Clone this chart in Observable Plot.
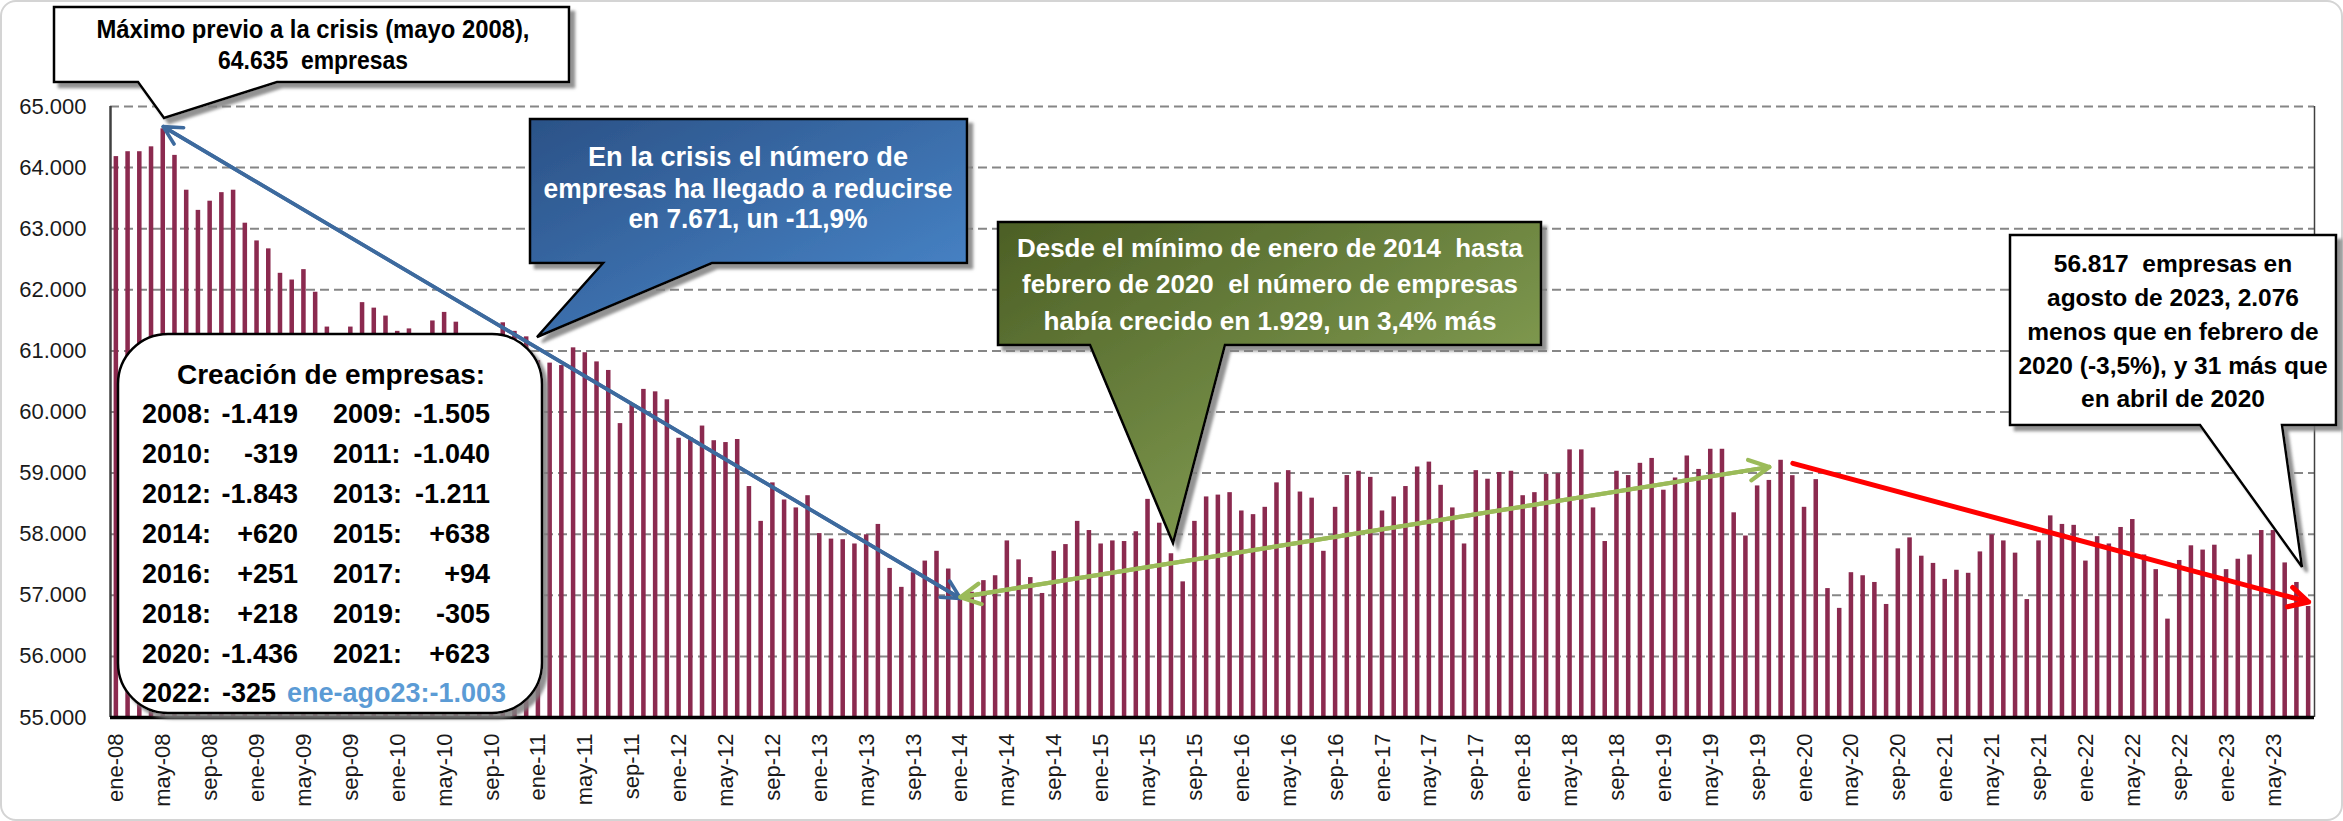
<!DOCTYPE html>
<html><head><meta charset="utf-8">
<script src="https://cdn.jsdelivr.net/npm/d3@7"></script>
<script src="https://cdn.jsdelivr.net/npm/@observablehq/plot@0.6"></script>
<style>
html,body{margin:0;padding:0;background:#fff;}
#wrap{position:relative;width:2343px;height:821px;overflow:hidden;font-family:Arial,"Liberation Sans",sans-serif;}
#wrap svg{position:absolute;left:0;top:0;}
#border{position:absolute;left:0;top:0;width:2339px;height:817px;border:2px solid #d4d4d4;border-radius:16px;pointer-events:none;}
</style></head><body><div id="wrap"><div id="border"></div></div>
<script>
// ---------- data ----------
const monthNames = ["ene","feb","mar","abr","may","jun","jul","ago","sep","oct","nov","dic"];
const years = [2008,2009,2010,2011,2012,2013,2014,2015,2016,2017,2018,2019,2020,2021,2022,2023];
const v2008 = [64180,64260,64260,64340,64635,64200,63630,63300,63450,63590,63630,63090];
const v2009 = [62800,62670,62270,62160,62330,61960,61390,61150,61390,61790,61700,61570];
const v2010 = [61320,61360,61200,61490,61630,61470,61100,60950,61150,61460,61320,61230];
const v2011 = [60840,60800,60760,61050,60970,60820,60680,59810,60130,60370,60330,60200];
const v2012 = [59570,59580,59770,59530,59500,59550,58780,58210,58840,58560,58430,58630];
const v2013 = [58010,57920,57910,57840,57990,58160,57440,57130,57370,57560,57720,57430];
const v2014 = [56964,57050,57240,57320,57890,57580,57290,57030,57720,57830,58210,58060];
const v2015 = [57840,57890,57880,58040,58570,58180,57680,57220,58210,58610,58640,58680];
const v2016 = [58380,58320,58440,58840,59040,58690,58590,57720,58440,58960,59030,58930];
const v2017 = [58380,58610,58780,59100,59180,58800,58430,57840,59040,58900,59010,59030];
const v2018 = [58630,58680,58980,58990,59380,59380,58430,57880,59030,58960,59160,59240];
const v2019 = [58720,58920,59280,59060,59390,59390,58350,57970,58790,58880,59210,58958];
const v2020 = [58440,58893,57110,56786,57370,57320,57210,56850,57760,57940,57640,57522];
const v2021 = [57260,57410,57360,57710,57990,57890,57690,56930,57890,58300,58160,58145];
const v2022 = [57560,57960,57840,58110,58240,57660,57420,56610,57570,57810,57740,57820];
const v2023 = [57420,57590,57660,58060,58060,57530,57210,56817];
const yearValues = [v2008,v2009,v2010,v2011,v2012,v2013,v2014,v2015,v2016,v2017,v2018,v2019,v2020,v2021,v2022,v2023];

const tickLabels = ["ene-08","may-08","sep-08","ene-09","may-09","sep-09","ene-10","may-10","sep-10",
  "ene-11","may-11","sep-11","ene-12","may-12","sep-12","ene-13","may-13","sep-13","ene-14","may-14","sep-14",
  "ene-15","may-15","sep-15","ene-16","may-16","sep-16","ene-17","may-17","sep-17","ene-18","may-18","sep-18",
  "ene-19","may-19","sep-19","ene-20","may-20","sep-20","ene-21","may-21","sep-21","ene-22","may-22","sep-22",
  "ene-23","may-23"];
const yTicks = [55000,56000,57000,58000,59000,60000,61000,62000,63000,64000,65000];

// annotation arrows (month label, value)
const blueArrow  = [{from:"may-08", fromV:64670, to:"ene-14", toV:56950}];
const greenArrow = [{from:"ene-14", fromV:56970, to:"oct-19", toV:59100}];
const redArrow   = [{from:"dic-19", fromV:59160, to:"ago-23", toV:56890}];

const creacionHeader = "Creación de empresas:";
const creacionLeft  = [["2008:","-1.419"],["2010:","-319"],["2012:","-1.843"],["2014:","+620"],["2016:","+251"],["2018:","+218"],["2020:","-1.436"]];
const creacionRight = [["2009:","-1.505"],["2011:","-1.040"],["2013:","-1.211"],["2015:","+638"],["2017:","+94"],["2019:","-305"],["2021:","+623"]];
const creacionLast = ["2022:","-325","ene-ago23:-1.003"];

const maxText   = ["Máximo previo a la crisis (mayo 2008),","64.635  empresas"];
const blueText  = ["En la crisis el número de","empresas ha llegado a reducirse","en 7.671, un -11,9%"];
const greenText = ["Desde el mínimo de enero de 2014  hasta","febrero de 2020  el número de empresas","había crecido en 1.929, un 3,4% más"];
const lastText  = ["56.817  empresas en","agosto de 2023, 2.076","menos que en febrero de","2020 (-3,5%), y 31 más que","en abril de 2020"];

// ---------- build ----------
const data = [];
years.forEach((y, k) => yearValues[k].forEach((v, m) =>
  data.push({i: data.length, label: monthNames[m] + "-" + String(y).slice(2), v})));
const pos = l => data.findIndex(d => d.label === l) + 0.5;
const tickPos = tickLabels.map(pos);
const labelOf = new Map(tickPos.map((p, k) => [p, tickLabels[k]]));
const fmt = v => d3.format(",")(v).replace(/,/g, ".");

function arrowMarks(arr, opts, both) {
  const m = [Plot.arrow(arr, {x1: d => pos(d.from), y1: "fromV", x2: d => pos(d.to), y2: "toV", ...opts})];
  if (both) m.push(Plot.arrow(arr, {x1: d => pos(d.to), y1: "toV", x2: d => pos(d.from), y2: "fromV", ...opts}));
  return m;
}

const chart = Plot.plot({
  width: 2343, height: 821,
  marginLeft: 110, marginRight: 29, marginTop: 106, marginBottom: 104,
  style: {fontFamily: "Arial, 'Liberation Sans', sans-serif", fontSize: "22px", color: "#1a1a1a", background: "transparent"},
  x: {type: "linear", domain: [0, data.length], ticks: tickPos, tickFormat: p => labelOf.get(p),
      tickRotate: -90, tickSize: 0, tickPadding: 16, label: null},
  y: {domain: [55000, 65000], ticks: yTicks, tickFormat: fmt, tickSize: 0, tickPadding: 24, label: null},
  marks: [
    Plot.ruleY(yTicks.slice(1), {stroke: "#868686", strokeWidth: 2, strokeDasharray: "9,5"}),
    Plot.rect(data, {x1: d => d.i, x2: d => d.i + 1, y1: 55000, y2: "v", fill: "#8B2A4F", insetLeft: 3.6, insetRight: 3.6}),
    Plot.ruleX([0], {stroke: "#404040", strokeWidth: 2.5}),
    Plot.ruleX([data.length], {stroke: "#404040", strokeWidth: 1.5}),
    Plot.ruleY([55000], {stroke: "#000", strokeWidth: 3.5}),
    ...arrowMarks(blueArrow, {stroke: "#3D6A9E", strokeWidth: 3.6, headLength: 8.5, headAngle: 55}, true),
    ...arrowMarks(greenArrow, {stroke: "#9BBB59", strokeWidth: 4.2, headLength: 8, headAngle: 55}, true),
    ...arrowMarks(redArrow, {stroke: "#FF0000", strokeWidth: 5, headLength: 6.5, headAngle: 55}, false)
  ]
});
d3.select(chart).selectAll('[aria-label^="x-axis"] text').attr("font-size", 22);
document.getElementById("wrap").appendChild(chart);

// ---------- overlay annotations ----------
const ov = d3.select("#wrap").append("svg").attr("width", 2343).attr("height", 821)
  .style("pointer-events", "none").attr("font-family", "Arial, 'Liberation Sans', sans-serif");
const defs = ov.append("defs");
const f = defs.append("filter").attr("id", "sh").attr("x", "-10%").attr("y", "-10%").attr("width", "130%").attr("height", "130%");
f.append("feDropShadow").attr("dx", 5).attr("dy", 5).attr("stdDeviation", 1.5).attr("flood-color", "#7f7f7f").attr("flood-opacity", 0.85);
function grad(id, c0, c1) {
  const g = defs.append("linearGradient").attr("id", id).attr("x1", 0).attr("y1", 0).attr("x2", 1).attr("y2", 1);
  g.append("stop").attr("offset", "0%").attr("stop-color", c0);
  g.append("stop").attr("offset", "100%").attr("stop-color", c1);
}
grad("gBlue", "#2B5287", "#4B8ACF");
grad("gGreen", "#4C5F25", "#93B060");

function callout([x0, y0, x1, y1], [b0, b1], [tx, ty], fill) {
  ov.append("path").attr("d", `M${x0},${y0}H${x1}V${y1}H${b1}L${tx},${ty}L${b0},${y1}H${x0}Z`)
    .attr("fill", fill).attr("stroke", "#000").attr("stroke-width", 2.5).attr("stroke-linejoin", "miter")
    .attr("filter", "url(#sh)");
}
function lines(arr, cx, ys, size, color, lens) {
  arr.forEach((t, k) => {
    const el = ov.append("text").attr("x", cx).attr("y", ys[k]).attr("text-anchor", "middle")
      .attr("font-size", size).attr("font-weight", "bold").attr("fill", color)
      .style("white-space", "pre").text(t);
    if (lens) el.attr("textLength", lens[k]).attr("lengthAdjust", "spacingAndGlyphs");
  });
}

// Creación box
ov.append("rect").attr("x", 118).attr("y", 334).attr("width", 424).attr("height", 379).attr("rx", 50)
  .attr("fill", "#fff").attr("stroke", "#000").attr("stroke-width", 2.5).attr("filter", "url(#sh)");
ov.append("text").attr("x", 177).attr("y", 384).attr("font-size", 28).attr("font-weight", "bold").text(creacionHeader);
const rowY = [423, 463, 503, 543, 583, 623, 663];
creacionLeft.forEach(([a, b], k) => {
  ov.append("text").attr("x", 142).attr("y", rowY[k]).attr("font-size", 27).attr("font-weight", "bold").text(a);
  ov.append("text").attr("x", 298).attr("y", rowY[k]).attr("text-anchor", "end").attr("font-size", 27).attr("font-weight", "bold").text(b);
});
creacionRight.forEach(([a, b], k) => {
  ov.append("text").attr("x", 333).attr("y", rowY[k]).attr("font-size", 27).attr("font-weight", "bold").text(a);
  ov.append("text").attr("x", 490).attr("y", rowY[k]).attr("text-anchor", "end").attr("font-size", 27).attr("font-weight", "bold").text(b);
});
ov.append("text").attr("x", 142).attr("y", 702).attr("font-size", 27).attr("font-weight", "bold").text(creacionLast[0]);
ov.append("text").attr("x", 222).attr("y", 702).attr("font-size", 27).attr("font-weight", "bold").text(creacionLast[1]);
ov.append("text").attr("x", 287).attr("y", 702).attr("font-size", 27).attr("font-weight", "bold").attr("fill", "#5B9BD5").text(creacionLast[2]);

// Máximo callout
callout([54, 7, 569, 82], [138, 277], [164, 118], "#fff");
lines(maxText, 313, [38, 69], 25, "#000", [433, 190]);

// Blue callout
callout([530, 119, 967, 263], [603, 712], [537, 337], "url(#gBlue)");
lines(blueText, 748, [166, 198, 228], 28, "#fff", [320, 409, 239]);

// Green callout
callout([998, 222, 1541, 345], [1090, 1225], [1173, 543], "url(#gGreen)");
lines(greenText, 1270, [257, 293, 330], 26, "#fff", [506, 496, 453]);

// Last callout
callout([2010, 235, 2336, 425], [2200, 2282], [2302, 567], "#fff");
lines(lastText, 2173, [272, 306, 340, 374, 407], 24.5, "#000", null);
</script></body></html>
